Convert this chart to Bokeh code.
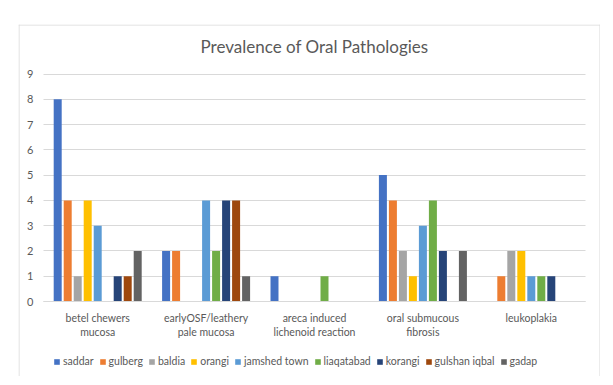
from bokeh.plotting import figure
from bokeh.models import (ColumnDataSource, Range1d, FixedTicker, Legend, LegendItem, Label, Span)
from bokeh.transform import dodge
from bokeh.embed import file_html
from bokeh.resources import INLINE

categories = ["betel chewers\nmucosa", "earlyOSF/leathery\npale mucosa", "areca induced\nlichenoid reaction",
              "oral submucous\nfibrosis", "leukoplakia"]
series_names = ["saddar", "gulberg", "baldia", "orangi", "jamshed town", "liaqatabad", "korangi", "gulshan iqbal", "gadap"]
saddar = [8, 2, 1, 5, 0]
gulberg = [4, 2, 0, 4, 1]
baldia = [1, 0, 0, 2, 2]
orangi = [4, 0, 0, 1, 2]
jamshed_town = [3, 4, 0, 3, 1]
liaqatabad = [0, 2, 1, 4, 1]
korangi = [1, 4, 0, 2, 1]
gulshan_iqbal = [1, 4, 0, 0, 0]
gadap = [2, 1, 0, 2, 0]
series_values = [saddar, gulberg, baldia, orangi, jamshed_town, liaqatabad, korangi, gulshan_iqbal, gadap]
y_ticks = [0, 1, 2, 3, 4, 5, 6, 7, 8, 9]
colors = ["#4472C4", "#ED7D31", "#A5A5A5", "#FFC000", "#5B9BD5", "#70AD47", "#264478", "#9E480E", "#636363"]
title_text = "Prevalence of Oral Pathologies"

FONT = "Lato"
TXT = "#595959"
GRID = "#d9d9d9"

# layout in pixels (frame = outer chart box)
FW, FH = 582, 352
XPX = 108.4          # px per category
YPX = 227.5 / 9      # px per unit
left_pad, right_pad = 25, 15
below_pad = 75
n = len(categories)
x0 = -left_pad / XPX
x1 = n + right_pad / XPX
y0 = -below_pad / YPX
y1 = y0 + FH / YPX

p = figure(x_range=Range1d(x0, x1), y_range=Range1d(y0, y1),
           width=FW + 18, height=FH + 24, output_backend="svg", toolbar_location=None,
           min_border_left=18, min_border_right=0, min_border_top=24, min_border_bottom=0)
p.outline_line_color = None

src = {"x": [i + 0.5 for i in range(n)]}
for name, vals in zip(series_names, series_values):
    src[name] = vals
source = ColumnDataSource(src)

pitch = 10 / XPX
bw = 8 / XPX
items = []
for i, (name, col) in enumerate(zip(series_names, colors)):
    r = p.vbar(x=dodge("x", (i - 4) * pitch), top=name, width=bw,
               source=source, fill_color=col, line_color=None)
    items.append(LegendItem(label=name, renderers=[r]))

legend = Legend(items=items, orientation="horizontal", location=(35, 9),
                glyph_width=7, glyph_height=7, label_standoff=3, spacing=5,
                label_text_font=FONT, label_text_font_size="10.5px", label_text_color=TXT,
                border_line_color=None, background_fill_alpha=0, padding=0, margin=0)
p.add_layout(legend)

# outer chart border (left, top, right)
half_x = 0.5 / XPX
half_y = 0.5 / YPX
for loc, dim in [(x0 + half_x, "height"), (x1 - half_x, "height")]:
    p.add_layout(Span(location=loc, dimension=dim, line_color=GRID, line_width=1))
p.add_layout(Span(location=y1 - half_y, dimension="width", line_color=GRID, line_width=1))

p.add_layout(Label(x=n / 2, y=(302 - 47) / YPX, text=title_text, text_align="center",
                   text_baseline="middle", text_font=FONT, text_font_size="17px", text_color=TXT))

p.xgrid.grid_line_color = None
p.ygrid.grid_line_color = GRID
p.ygrid.cross_bounds = (0, n)

p.yaxis.ticker = FixedTicker(ticks=y_ticks)
p.yaxis.fixed_location = 0
p.yaxis.bounds = (0, 9)
p.yaxis.axis_line_color = None
p.yaxis.major_tick_line_color = None
p.yaxis.minor_tick_line_color = None
p.yaxis.major_label_text_font = FONT
p.yaxis.major_label_text_font_size = "11px"
p.yaxis.major_label_text_color = TXT
p.yaxis.major_label_standoff = 4

p.xaxis.ticker = FixedTicker(ticks=src["x"])
p.xaxis.major_label_overrides = {x: c for x, c in zip(src["x"], categories)}
p.xaxis.fixed_location = 0
p.xaxis.bounds = (0, n)
p.xaxis.axis_line_color = GRID
p.xaxis.major_tick_line_color = None
p.xaxis.minor_tick_line_color = None
p.xaxis.major_label_text_font = FONT
p.xaxis.major_label_text_font_size = "10.5px"
p.xaxis.major_label_text_color = TXT
p.xaxis.major_label_standoff = 4

open("out.html", "w").write(file_html(p, INLINE))
